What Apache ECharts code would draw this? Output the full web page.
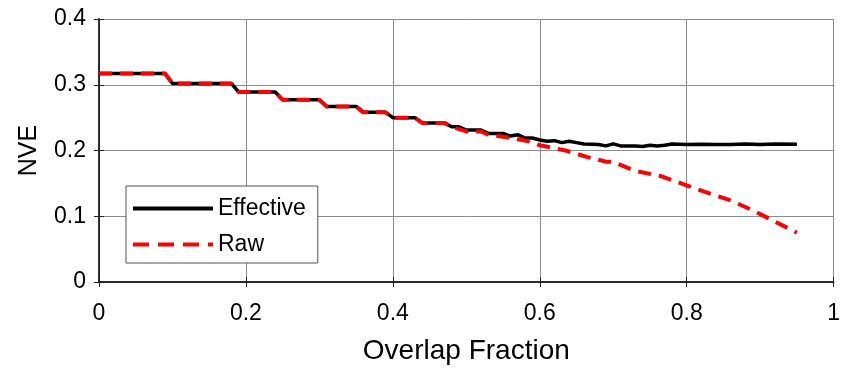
<!DOCTYPE html>
<html>
<head>
<meta charset="utf-8">
<script src="https://cdn.jsdelivr.net/npm/echarts@6/dist/echarts.min.js"></script>
<style>
  html, body { margin: 0; padding: 0; background: #fff; }
  #chart { width: 843px; height: 370px; }
</style>
</head>
<body>
<div id="chart"></div>
<script>
// data
var effX = [0, 0.09, 0.10, 0.18, 0.19, 0.24, 0.25, 0.30, 0.31, 0.35, 0.36, 0.39, 0.40, 0.43, 0.44, 0.47,
  0.48, 0.49, 0.50, 0.52, 0.53, 0.55, 0.56, 0.57, 0.58, 0.59, 0.60, 0.61, 0.62, 0.63, 0.64, 0.65, 0.66,
  0.68, 0.69, 0.70, 0.71, 0.72, 0.73, 0.74, 0.75, 0.76, 0.77, 0.78, 0.80, 0.82, 0.84, 0.86, 0.88, 0.90, 0.92, 0.95];
var effY = [0.317, 0.317, 0.302, 0.302, 0.289, 0.289, 0.277, 0.277, 0.267, 0.267, 0.258, 0.258, 0.250, 0.250, 0.242, 0.242,
  0.236, 0.236, 0.231, 0.231, 0.226, 0.226, 0.222, 0.224, 0.219, 0.219, 0.216, 0.214, 0.215, 0.212, 0.214, 0.212, 0.210,
  0.209, 0.207, 0.210, 0.207, 0.207, 0.207, 0.206, 0.208, 0.207, 0.208, 0.210, 0.209, 0.2095, 0.209, 0.209, 0.210, 0.209, 0.210, 0.2095];
var rawX = [0, 0.09, 0.10, 0.18, 0.19, 0.24, 0.25, 0.30, 0.31, 0.35, 0.36, 0.39, 0.40, 0.43, 0.44, 0.47,
  0.486, 0.50, 0.52, 0.53, 0.55, 0.57, 0.585, 0.60, 0.635, 0.665, 0.69, 0.70, 0.73, 0.765, 0.795, 0.825, 0.86, 0.89, 0.92, 0.95];
var rawY = [0.317, 0.317, 0.302, 0.302, 0.289, 0.289, 0.277, 0.277, 0.267, 0.267, 0.258, 0.258, 0.250, 0.250, 0.242, 0.242,
  0.234, 0.229, 0.229, 0.224, 0.221, 0.217, 0.214, 0.208, 0.200, 0.190, 0.183, 0.1826, 0.169, 0.161, 0.149, 0.137, 0.124, 0.109, 0.092, 0.075];
var xTicks = [0, 0.2, 0.4, 0.6, 0.8, 1];
var yTicks = [0, 0.1, 0.2, 0.3, 0.4];

function pairs(xs, ys) {
  return xs.map(function (x, i) { return [x, ys[i]]; });
}

var font = "Arial, 'Liberation Sans', sans-serif";
var chart = echarts.init(document.getElementById("chart"));

// legend icons: solid bar and dashed bar
var solidIcon = "path://M0,0H80V4H0Z";
var dashIcon = "path://M0,0h16v4h-16z M25,0h16v4h-16z M50,0h16v4h-16z M75,0h5v4h-5z";

var option = {
  animation: false,
  grid: { left: 99, right: 1, top: 19, bottom: 84 },
  legend: {
    orient: "vertical",
    left: 126,
    top: 186,
    padding: [11, 12, 7, 7],
    itemWidth: 80,
    itemHeight: 4,
    itemGap: 13,
    backgroundColor: "#fff",
    borderColor: "#555",
    borderWidth: 1,
    textStyle: { fontFamily: font, fontSize: 23, color: "#000", lineHeight: 20 },
    data: [
      { name: "Effective", icon: solidIcon },
      { name: "Raw", icon: dashIcon }
    ]
  },
  xAxis: [
    {
      type: "value",
      min: 0,
      max: 1,
      interval: 0.2,
      name: "Overlap Fraction",
      nameLocation: "middle",
      nameGap: 55,
      nameTextStyle: { fontFamily: font, fontSize: 28, color: "#000" },
      axisLine: { show: true, onZero: false, lineStyle: { color: "#222", width: 1.5 } },
      axisTick: { show: true, inside: true, length: 5, lineStyle: { color: "#222" } },
      axisLabel: {
        fontFamily: font, fontSize: 23, color: "#000", margin: 20,
        formatter: function (v) { return xTicks.indexOf(v) >= 0 ? String(v) : ""; }
      },
      splitLine: { show: true, lineStyle: { color: "#8c8c8c", width: 1 } }
    },
    {
      type: "value",
      position: "top",
      min: 0,
      max: 1,
      interval: 0.2,
      axisLine: { show: true, lineStyle: { color: "#222", width: 1.5 } },
      axisTick: { show: true, inside: true, length: 5, lineStyle: { color: "#222" } },
      axisLabel: { show: false },
      splitLine: { show: false }
    }
  ],
  yAxis: [
    {
      type: "value",
      min: 0,
      max: 0.4,
      interval: 0.1,
      name: "NVE",
      nameLocation: "middle",
      nameGap: 57,
      nameTextStyle: { fontFamily: font, fontSize: 25, color: "#000" },
      axisLine: { show: true, onZero: false, lineStyle: { color: "#222", width: 1.5 } },
      axisTick: { show: true, inside: true, length: 5, lineStyle: { color: "#222" } },
      axisLabel: {
        fontFamily: font, fontSize: 23, color: "#000", margin: 13,
        formatter: function (v) { return yTicks.indexOf(v) >= 0 ? String(v) : ""; }
      },
      splitLine: { show: true, lineStyle: { color: "#8c8c8c", width: 1 } }
    },
    {
      type: "value",
      position: "right",
      min: 0,
      max: 0.4,
      interval: 0.1,
      axisLine: { show: true, lineStyle: { color: "#222", width: 1.5 } },
      axisTick: { show: true, inside: true, length: 5, lineStyle: { color: "#222" } },
      axisLabel: { show: false },
      splitLine: { show: false }
    }
  ],
  series: [
    {
      name: "Effective",
      type: "line",
      showSymbol: false,
      symbol: "none",
      data: pairs(effX, effY),
      itemStyle: { color: "#000" },
      lineStyle: { color: "#000", width: 3.5 }
    },
    {
      name: "Raw",
      type: "line",
      showSymbol: false,
      symbol: "none",
      data: pairs(rawX, rawY),
      itemStyle: { color: "#ff0000" },
      lineStyle: { color: "#ff0000", width: 4, type: [13, 8] }
    }
  ]
};

chart.setOption(option);
</script>
</body>
</html>
